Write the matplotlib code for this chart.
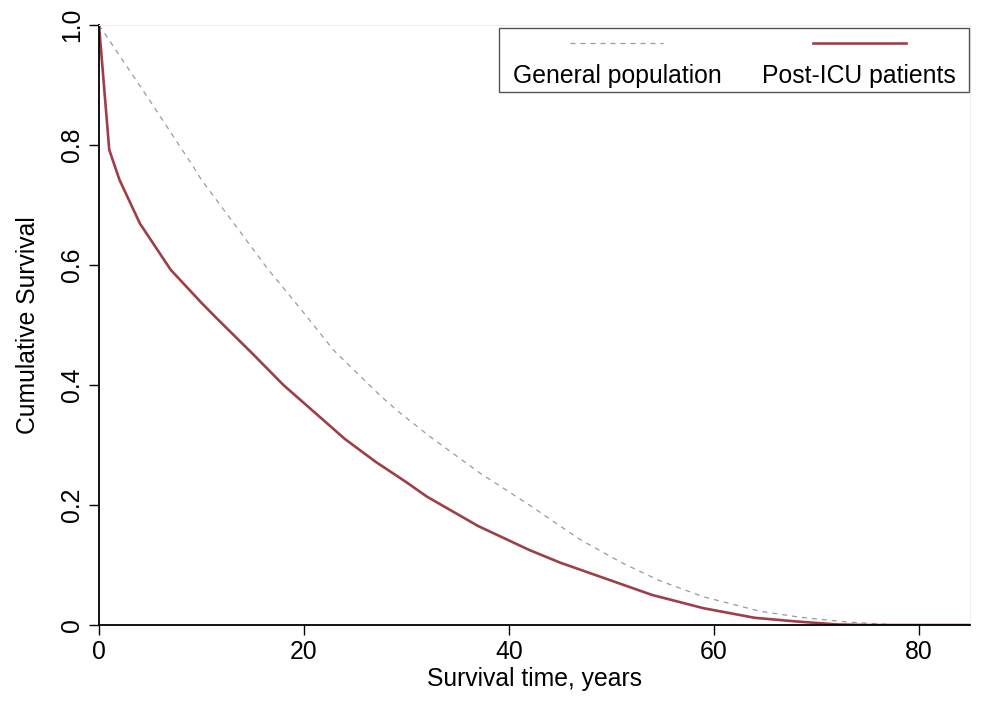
import matplotlib.pyplot as plt
from matplotlib.patches import Rectangle

plt.rcParams["font.family"] = ["Liberation Sans", "DejaVu Sans"]

# survival curves
icu_years = [0, 1, 2, 4, 7, 10, 11.5, 15, 18, 21, 24, 27, 30, 32, 37, 42, 45, 47,
             54, 59, 64, 68, 72, 75, 85]
icu_surv = [1.0, 0.792, 0.742, 0.669, 0.592, 0.537, 0.511, 0.452, 0.40, 0.355,
            0.31, 0.272, 0.238, 0.214, 0.165, 0.125, 0.104, 0.092, 0.05, 0.028,
            0.012, 0.006, 0.001, 0.0, 0.0]

gen_years = [0, 5, 9.2, 10, 16.4, 20, 22.9, 27.4, 29.2, 32.3, 37.2, 42, 45, 47,
             51, 54.7, 59, 64.5, 68.4, 73, 78, 85]
gen_surv = [1.0, 0.873, 0.764, 0.742, 0.595, 0.52, 0.458, 0.383, 0.356, 0.314,
            0.253, 0.20, 0.165, 0.142, 0.104, 0.074, 0.047, 0.023, 0.013, 0.005,
            0.0, 0.0]

labels = ["General population", "Post-ICU patients"]
x_ticks = [0, 20, 40, 60, 80]
y_ticks = [0, 0.2, 0.4, 0.6, 0.8, 1.0]
y_ticklabels = ["0", "0.2", "0.4", "0.6", "0.8", "1.0"]

red = "#9e3f48"
grey = "#9a9a9a"
fs = 17.8

fig = plt.figure(figsize=(9.96, 7.24), dpi=100)
ax = fig.add_axes([0.0994, 0.1367, 0.8745, 0.8287])

ax.plot(gen_years, gen_surv, color=grey, lw=0.9, linestyle=(0, (4, 4)))
ax.plot(icu_years, icu_surv, color=red, lw=1.9)

ax.set_xlim(0, 85)
ax.set_ylim(0, 1)
ax.set_xticks(x_ticks)
ax.set_yticks(y_ticks)
ax.set_yticklabels(y_ticklabels, rotation=90, va="center")
ax.tick_params(axis="both", labelsize=fs, width=1, length=7, color="black")
ax.tick_params(axis="y", pad=4)
ax.tick_params(axis="x", pad=4)

for side in ["left", "bottom"]:
    ax.spines[side].set_linewidth(1.3)
for side in ["top", "right"]:
    ax.spines[side].set_color("#eeeeee")
    ax.spines[side].set_linewidth(0.8)

ax.set_xlabel("Survival time, years", fontsize=fs, labelpad=2)
ax.set_ylabel("Cumulative Survival", fontsize=fs, labelpad=14)

# Stata-style legend: keys above the labels
ax.add_patch(Rectangle((0.459, 0.888), 0.5399, 0.107, transform=ax.transAxes,
                       fill=False, edgecolor="#555555", lw=1, clip_on=False, zorder=5))
ax.plot([0.541, 0.647], [0.970, 0.970], transform=ax.transAxes, color=grey,
        lw=0.9, linestyle=(0, (4, 4)), clip_on=False)
ax.plot([0.820, 0.927], [0.970, 0.970], transform=ax.transAxes, color=red,
        lw=1.9, clip_on=False)
ax.text(0.595, 0.915, labels[0], transform=ax.transAxes, fontsize=fs,
        ha="center", va="center")
ax.text(0.872, 0.915, labels[1], transform=ax.transAxes, fontsize=fs,
        ha="center", va="center")

fig.savefig("out.png", dpi=100)
